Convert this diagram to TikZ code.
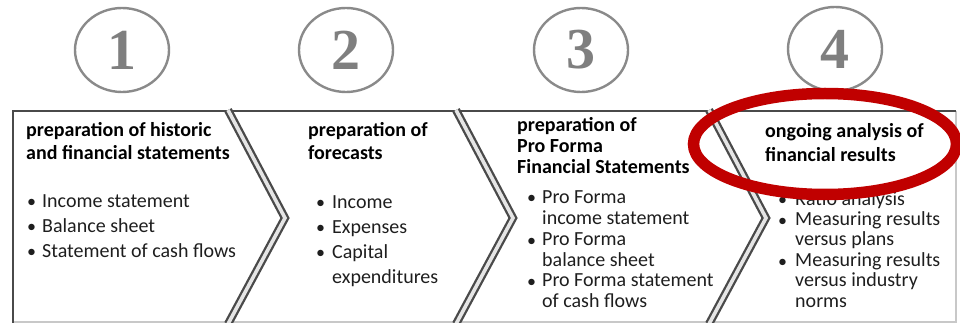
\documentclass[tikz,border=0pt]{standalone}
\usepackage{fontspec}
\setmainfont{Carlito}
\newfontfamily\digitfont{Liberation Serif}
\usetikzlibrary{shapes.geometric}
\definecolor{framegray}{HTML}{4A4A4A}
\definecolor{lightframe}{HTML}{C8C8C8}
\definecolor{circgray}{HTML}{8A8A8A}
\definecolor{digitgray}{HTML}{7F7F7F}
\definecolor{txtdark}{HTML}{1E1E1E}
\definecolor{ringred}{HTML}{C00000}
\tikzset{
  numcirc/.style={ellipse, draw=circgray, line width=2.4pt, minimum width=94pt, minimum height=84pt, inner sep=0pt,
    text=digitgray, font=\digitfont\bfseries\fontsize{58}{58}\selectfont},
  headtxt/.style={anchor=base west, inner sep=0pt, text=black, font=\bfseries\fontsize{20}{24}\selectfont},
  itemtxt/.style={anchor=base west, inner sep=0pt, text=txtdark, font=\fontsize{20}{24}\selectfont},
  bulletmark/.style={anchor=base west, inner sep=0pt, text=txtdark, font=\fontsize{18}{24}\selectfont},
  chevron/.style={draw=framegray, line width=2.3pt, double=gray!20, double distance=3.6pt, line join=miter},
  ring/.style={draw=ringred, line width=11.5pt}
}
\begin{document}
\begin{tikzpicture}[x=1pt,y=-1pt]
\useasboundingbox (0,0) rectangle (960,323);
% frame
\coordinate (tl) at (13,111);
\coordinate (tr) at (956,111);
\coordinate (bl) at (13,323);
\coordinate (br) at (956,323);
\coordinate (bbl) at (13,322);
\coordinate (bbr) at (956,322);
\draw[lightframe, line width=1.2pt] (bbl) -- (bbr);
\draw[lightframe, line width=1.6pt] (tr) -- (br);
\draw[framegray, line width=2pt] (bl) -- (tl) -- (tr);
% chevrons
\foreach \cx [count=\k] in {228,456,709}{
  \coordinate (ch\k t) at (\cx,110);
  \coordinate (ch\k p) at (\cx+57,218);
  \coordinate (ch\k b) at (\cx,324);
  \draw[chevron] (ch\k t) -- (ch\k p) -- (ch\k b);
}
% number circles
\node[numcirc] (n1) at (122,50) {1};
\node[numcirc] (n2) at (346,50) {2};
\node[numcirc] (n3) at (581,50) {3};
\node[numcirc] (n4) at (835,49) {4};
% panel 1
\node[headtxt] (h1a) at (26,137) {preparation of historic};
\node[headtxt] (h1b) at (26,160) {and financial statements};
\foreach \t [count=\i] in {Income statement, Balance sheet, Statement of cash flows}{
  \node[bulletmark] (b1m\i) at (27,{207+25*(\i-1)}) {•};
  \node[itemtxt] (b1t\i) at (42,{207+25*(\i-1)}) {\t};
}
% panel 2
\node[headtxt] (h2a) at (308,137) {preparation of};
\node[headtxt] (h2b) at (308,160) {forecasts};
\foreach \t [count=\i] in {Income, Expenses, Capital}{
  \node[bulletmark] (b2m\i) at (316,{208+25*(\i-1)}) {•};
}
\foreach \t [count=\i] in {Income, Expenses, Capital, expenditures}{
  \node[itemtxt] (b2t\i) at (332,{208+25*(\i-1)}) {\t};
}
% panel 3
\node[headtxt] (h3a) at (517,132) {preparation of};
\node[headtxt] (h3b) at (517,153) {Pro Forma};
\node[headtxt] (h3c) at (517,174) {Financial Statements};
\node[bulletmark] (b3m1) at (527,204) {•};
\node[bulletmark] (b3m2) at (527,246) {•};
\node[bulletmark] (b3m3) at (527,287) {•};
\foreach \t [count=\i] in {Pro Forma, income statement, Pro Forma, balance sheet, Pro Forma statement, of cash flows}{
  \node[itemtxt] (b3t\i) at (542,{204+20.7*(\i-1)}) {\t};
}
% panel 4
\node[headtxt] (h4a) at (765,138) {ongoing analysis of};
\node[headtxt] (h4b) at (765,162) {financial results};
\node[bulletmark] (b4m0) at (778,205) {•};
\node[bulletmark] (b4m1) at (778,226) {•};
\node[bulletmark] (b4m2) at (778,267) {•};
\foreach \t [count=\i] in {Ratio analysis, Measuring results, versus plans, Measuring results, versus industry, norms}{
  \node[itemtxt] (b4t\i) at (795,{205+20.4*(\i-1)}) {\t};
}
% red ring
\coordinate (ringc) at (825,144);
\draw[ring] (ringc) ellipse [x radius=131.5, y radius=50.5];
\end{tikzpicture}
\end{document}
